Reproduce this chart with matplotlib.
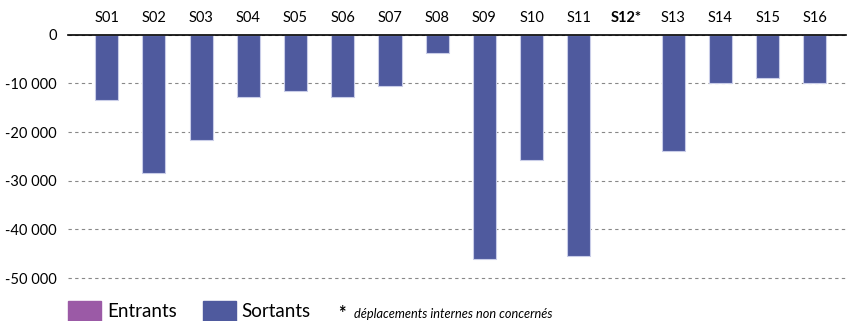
import matplotlib
matplotlib.use("Agg")
import matplotlib.pyplot as plt
from matplotlib.patches import Rectangle
import numpy as np

# données (S12 : déplacements internes non concernés)
secteurs = ['S01', 'S02', 'S03', 'S04', 'S05', 'S06', 'S07', 'S08',
            'S09', 'S10', 'S11', 'S12*', 'S13', 'S14', 'S15', 'S16']
sortants = [-13400, -28500, -21700, -12700, -11650, -12700, -10550, -3750,
            -46100, -25700, -45400, np.nan, -23850, -9900, -8850, -9900]
yticks = [0, -10000, -20000, -30000, -40000, -50000]

couleur_sortants = '#4f5a9e'
couleur_entrants = '#9b5aa6'

plt.rcParams['font.family'] = ['Lato', 'DejaVu Sans']

fig = plt.figure(figsize=(8.47, 3.21), dpi=100)
W, H = 847, 321
ax = fig.add_axes([68 / W, 1 - 283 / H, 778 / W, (283 - 34.7) / H])

x = np.arange(len(secteurs))
ax.bar(x, sortants, width=0.49, color=couleur_sortants,
       edgecolor='#c9cde8', linewidth=0.8, zorder=3)

ax.set_xlim(-0.82, 15.66)
ax.set_ylim(-51000, 0)

ax.set_yticks(yticks)
ax.set_yticklabels(['{:,}'.format(v).replace(',', ' ') for v in yticks], fontsize=10.5)
ax.yaxis.grid(True, linestyle=(0, (3, 3)), color='#888888', linewidth=0.8, zorder=0)
ax.tick_params(axis='y', length=0, pad=8)

ax.xaxis.tick_top()
ax.set_xticks(x)
ax.set_xticklabels(secteurs, fontsize=10.5)
ax.tick_params(axis='x', length=0, pad=7)
for lbl in ax.get_xticklabels():
    if lbl.get_text() == 'S12*':
        lbl.set_fontweight('bold')

for s in ['left', 'right', 'bottom']:
    ax.spines[s].set_visible(False)
ax.spines['top'].set_color('black')
ax.spines['top'].set_linewidth(1.2)
ax.spines['top'].set_zorder(4)

# légende en bas
def px(x0, y0):
    return (x0 / W, 1 - y0 / H)

fig.add_artist(Rectangle(px(68, 324), 33 / W, 23 / H, transform=fig.transFigure,
                         color=couleur_entrants))
fig.text(*px(107, 320), 'Entrants', fontsize=13.5, va='bottom')
fig.add_artist(Rectangle(px(203, 324), 33 / W, 23 / H, transform=fig.transFigure,
                         color=couleur_sortants))
fig.text(*px(241, 320), 'Sortants', fontsize=13.5, va='bottom')
fig.text(*px(338, 318.5), '*', fontsize=13, fontweight='bold', va='baseline')
fig.text(*px(354, 320), 'déplacements internes non concernés', fontsize=9.2,
         style='italic', va='bottom')

fig.savefig('out.png', dpi=100)
